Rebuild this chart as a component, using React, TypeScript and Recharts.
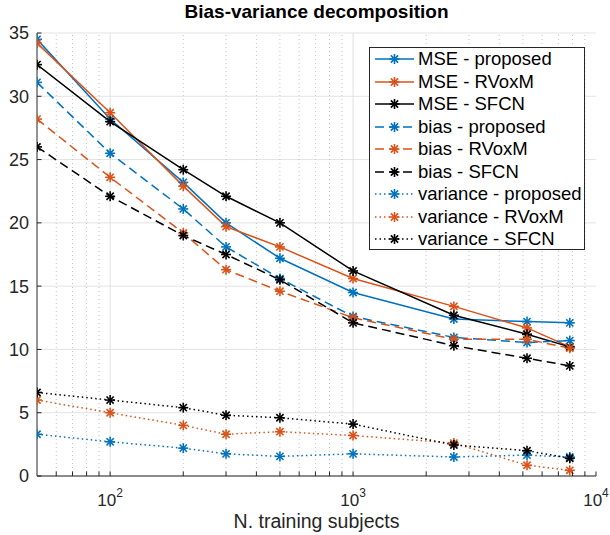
import {
  LineChart,
  Line,
  XAxis,
  YAxis,
  CartesianGrid,
  ReferenceLine,
  Legend,
  Label,
} from "recharts";

// training set sizes (x) and the nine curves
const subjects = [50, 100, 200, 300, 500, 1000, 2600, 5200, 7800];

const mseProposed = [34.5, 28.2, 23.2, 20.0, 17.2, 14.5, 12.4, 12.2, 12.1];
const mseRvoxm = [34.2, 28.7, 22.9, 19.7, 18.1, 15.6, 13.4, 11.7, 10.2];
const mseSfcn = [32.5, 28.0, 24.2, 22.1, 20.0, 16.2, 12.7, 11.2, 10.2];

const biasProposed = [31.1, 25.5, 21.1, 18.1, 15.6, 12.6, 10.95, 10.55, 10.7];
const biasRvoxm = [28.2, 23.6, 19.2, 16.3, 14.6, 12.5, 10.8, 10.8, 10.1];
const biasSfcn = [26.0, 22.1, 19.0, 17.5, 15.5, 12.1, 10.3, 9.3, 8.7];

const varProposed = [3.3, 2.7, 2.2, 1.75, 1.55, 1.75, 1.5, 1.65, 1.5];
const varRvoxm = [6.0, 5.0, 4.0, 3.3, 3.5, 3.2, 2.6, 0.85, 0.45];
const varSfcn = [6.6, 6.0, 5.4, 4.8, 4.6, 4.1, 2.45, 2.0, 1.4];

const yTicks = [0, 5, 10, 15, 20, 25, 30, 35];
const xMajor = [100, 1000, 10000];
const xMinor = [
  60, 70, 80, 90, 200, 300, 400, 500, 600, 700, 800, 900, 2000, 3000, 4000,
  5000, 6000, 7000, 8000, 9000,
];

const BLUE = "#0072BD";
const ORANGE = "#D95319";
const BLACK = "#000000";
const AXIS = "#262626";
const FONT = "'Liberation Sans', Arial, Helvetica, sans-serif";

const data = subjects.map((n, i) => ({
  n,
  mseProposed: mseProposed[i],
  mseRvoxm: mseRvoxm[i],
  mseSfcn: mseSfcn[i],
  biasProposed: biasProposed[i],
  biasRvoxm: biasRvoxm[i],
  biasSfcn: biasSfcn[i],
  varProposed: varProposed[i],
  varRvoxm: varRvoxm[i],
  varSfcn: varSfcn[i],
}));

const series = [
  { key: "mseProposed", name: "MSE - proposed", color: BLUE, dash: undefined },
  { key: "mseRvoxm", name: "MSE - RVoxM", color: ORANGE, dash: undefined },
  { key: "mseSfcn", name: "MSE - SFCN", color: BLACK, dash: undefined },
  { key: "biasProposed", name: "bias - proposed", color: BLUE, dash: "9 5" },
  { key: "biasRvoxm", name: "bias - RVoxM", color: ORANGE, dash: "9 5" },
  { key: "biasSfcn", name: "bias - SFCN", color: BLACK, dash: "9 5" },
  { key: "varProposed", name: "variance - proposed", color: BLUE, dash: "1.5 3" },
  { key: "varRvoxm", name: "variance - RVoxM", color: ORANGE, dash: "1.5 3" },
  { key: "varSfcn", name: "variance - SFCN", color: BLACK, dash: "1.5 3" },
];

// matlab '*' marker
function Star({ cx, cy, color }: { cx?: number; cy?: number; color: string }) {
  if (cx == null || cy == null) return null;
  const r = 5;
  const d = 3.6;
  return (
    <g stroke={color} strokeWidth={1.6} fill="none">
      <line x1={cx - r} y1={cy} x2={cx + r} y2={cy} />
      <line x1={cx} y1={cy - r} x2={cx} y2={cy + r} />
      <line x1={cx - d} y1={cy - d} x2={cx + d} y2={cy + d} />
      <line x1={cx - d} y1={cy + d} x2={cx + d} y2={cy - d} />
    </g>
  );
}

const TICK_LEN = 4.5;

function BottomTick(props: any) {
  const { x, y, payload } = props;
  const v = payload.value;
  const isMajor = xMajor.includes(v);
  const exp = Math.round(Math.log10(v));
  return (
    <g>
      <line x1={x} y1={y} x2={x} y2={y - TICK_LEN} stroke={AXIS} />
      {isMajor && (
        <text
          x={x}
          y={y + 30}
          textAnchor="middle"
          fill={AXIS}
          fontSize={17}
          fontFamily={FONT}
        >
          <tspan>10</tspan>
          <tspan dy={-9} fontSize={12}>
            {exp}
          </tspan>
        </text>
      )}
    </g>
  );
}

function TopTick(props: any) {
  const { x, y } = props;
  return <line x1={x} y1={y} x2={x} y2={y + TICK_LEN} stroke={AXIS} />;
}

function LeftTick(props: any) {
  const { x, y, payload } = props;
  return (
    <g>
      <line x1={x} y1={y} x2={x + TICK_LEN} y2={y} stroke={AXIS} />
      <text
        x={x - 8}
        y={y}
        dy="0.36em"
        textAnchor="end"
        fill={AXIS}
        fontSize={18}
        fontFamily={FONT}
      >
        {payload.value}
      </text>
    </g>
  );
}

function RightTick(props: any) {
  const { x, y } = props;
  return <line x1={x} y1={y} x2={x - TICK_LEN} y2={y} stroke={AXIS} />;
}

function LegendBox() {
  return (
    <div
      style={{
        width: 216,
        height: 203,
        boxSizing: "border-box",
        border: `1px solid ${AXIS}`,
        background: "#fff",
        fontFamily: FONT,
        fontSize: 18.5,
        color: "#000",
      }}
    >
      {series.map((s) => (
        <div
          key={s.key}
          style={{ display: "flex", alignItems: "center", height: 22.5 }}
        >
          <svg width={48} height={20} style={{ flex: "none" }}>
            <line
              x1={5}
              x2={44}
              y1={10}
              y2={10}
              stroke={s.color}
              strokeWidth={1.5}
              strokeDasharray={s.dash}
            />
            <Star cx={24.5} cy={10} color={s.color} />
          </svg>
          <span style={{ whiteSpace: "nowrap", lineHeight: "20px" }}>
            {s.name}
          </span>
        </div>
      ))}
    </div>
  );
}

export default function App() {
  return (
    <div style={{ position: "absolute", left: 0, top: 0, width: 610, height: 535, background: "#fff" }}>
      <div
        style={{
          position: "absolute",
          left: 37,
          width: 559,
          top: 1,
          textAlign: "center",
          fontFamily: FONT,
          fontWeight: "bold",
          fontSize: 19,
          color: "#000",
        }}
      >
        Bias-variance decomposition
      </div>
      <LineChart
        width={610}
        height={535}
        data={data}
        margin={{ top: 33, right: 14, left: 7, bottom: 0 }}
      >
        <CartesianGrid vertical={false} stroke="#e3e3e3" />
        {xMinor.map((v) => (
          <ReferenceLine
            key={v}
            x={v}
            stroke="#c4c4c4"
            strokeDasharray="1 3"
            ifOverflow="hidden"
          />
        ))}
        {xMajor.slice(0, 2).map((v) => (
          <ReferenceLine key={v} x={v} stroke="#e0e0e0" />
        ))}
        <XAxis
          dataKey="n"
          type="number"
          scale="log"
          domain={[50, 10000]}
          allowDataOverflow
          ticks={[...xMinor, ...xMajor]}
          interval={0}
          height={59}
          tickSize={0}
          tickMargin={0}
          tickLine={false}
          axisLine={{ stroke: AXIS }}
          tick={<BottomTick />}
        >
          <Label
            value="N. training subjects"
            position="insideBottom"
            offset={7}
            fill="#262626"
            fontSize={19.5}
            fontFamily={FONT}
          />
        </XAxis>
        <XAxis
          xAxisId="top"
          orientation="top"
          dataKey="n"
          type="number"
          scale="log"
          domain={[50, 10000]}
          allowDataOverflow
          ticks={[...xMinor, ...xMajor]}
          interval={0}
          height={0}
          tickSize={0}
          tickMargin={0}
          tickLine={false}
          axisLine={{ stroke: AXIS }}
          tick={<TopTick />}
        />
        <YAxis
          type="number"
          domain={[0, 35]}
          ticks={yTicks}
          interval={0}
          width={30}
          tickSize={0}
          tickMargin={0}
          tickLine={false}
          axisLine={{ stroke: AXIS }}
          tick={<LeftTick />}
        />
        <YAxis
          yAxisId="right"
          orientation="right"
          type="number"
          domain={[0, 35]}
          ticks={yTicks}
          interval={0}
          width={0}
          tickSize={0}
          tickMargin={0}
          tickLine={false}
          axisLine={{ stroke: AXIS }}
          tick={<RightTick />}
        />
        {series.map((s) => (
          <Line
            key={s.key}
            type="linear"
            dataKey={s.key}
            name={s.name}
            stroke={s.color}
            strokeWidth={1.5}
            strokeDasharray={s.dash}
            dot={(p: any) => <Star key={`${s.key}-${p.index}`} cx={p.cx} cy={p.cy} color={s.color} />}
            activeDot={false}
            isAnimationActive={false}
          />
        ))}
        <Legend
          layout="vertical"
          align="center"
          verticalAlign="middle"
          content={() => <LegendBox />}
          wrapperStyle={{ left: 369, top: 47, width: 216, height: 203, bottom: "auto", right: "auto" }}
        />
      </LineChart>
    </div>
  );
}
